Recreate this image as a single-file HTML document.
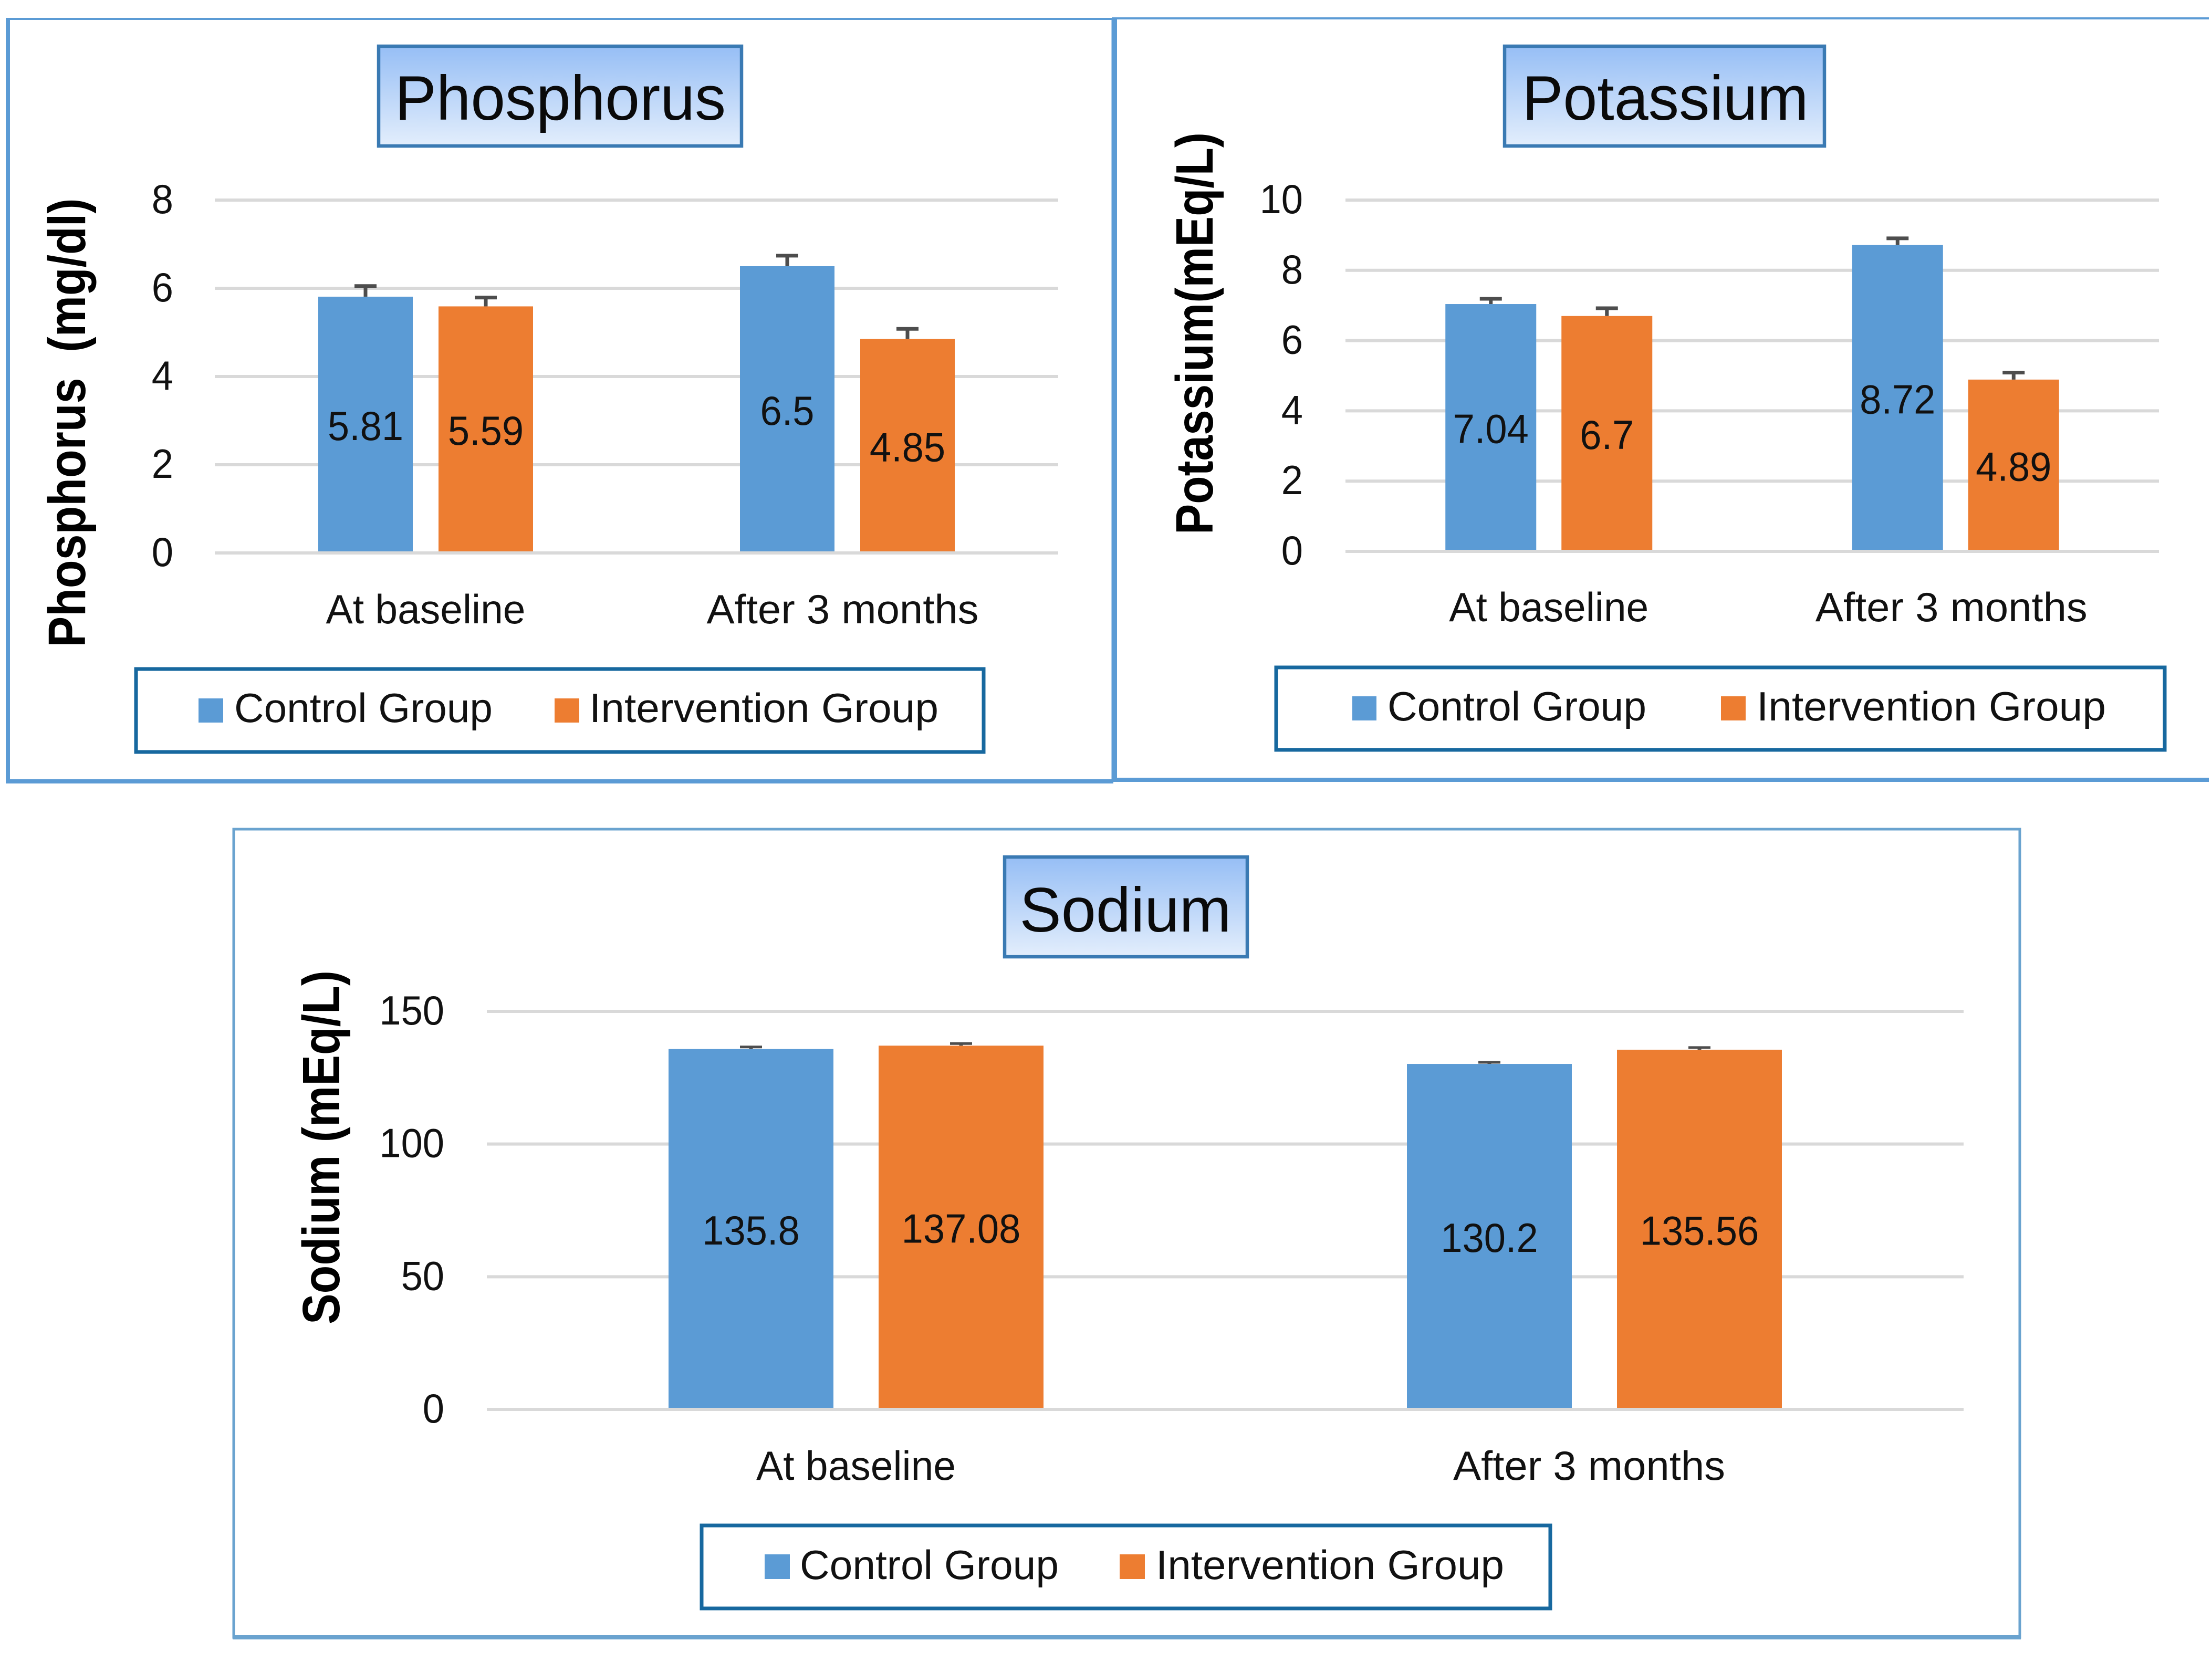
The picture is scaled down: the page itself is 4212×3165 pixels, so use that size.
<!DOCTYPE html>
<html lang="en">
<head>
<meta charset="utf-8">
<title>Phosphorus, Potassium and Sodium by group</title>
<style>
html,body{margin:0;padding:0;background:#fff;}
svg{display:block;}
text{font-family:"Liberation Sans",sans-serif;fill:#111;}
.title{font-size:120px;fill:#0a0a0a;}
.tick,.cat,.legend,.value{font-size:78px;}
.axis-title{font-size:100px;font-weight:bold;fill:#000;}
.title-box{fill:url(#title-fill);stroke:#3a7ab3;stroke-width:6.5;}
.legend-box{fill:#fff;stroke:#17689f;stroke-width:7;}
.frame{stroke:#5b9bd5;fill:none;}
</style>
</head>
<body>
<svg id="figure" xmlns="http://www.w3.org/2000/svg" width="4212" height="3165" viewBox="0 0 4212 3165">
  <defs>
    <linearGradient id="title-fill" x1="0" y1="0" x2="0" y2="1">
      <stop offset="0" stop-color="#96bef5"/>
      <stop offset="1" stop-color="#e3eefc"/>
    </linearGradient>
  </defs>
  <rect width="4212" height="3165" fill="#fff"/>

  <g>
    <line class="frame" x1="11" y1="36" x2="2120" y2="36" stroke-width="4"/>
    <line class="frame" x1="15" y1="34" x2="15" y2="1492" stroke-width="8"/>
    <line class="frame" x1="11" y1="1488" x2="2120" y2="1488" stroke-width="8"/>
    <line class="frame" x1="2118" y1="34" x2="2118" y2="1490" stroke-width="3"/>
  </g>
  <g>
    <line class="frame" x1="2117" y1="35" x2="4206" y2="35" stroke-width="4"/>
    <line class="frame" x1="2122" y1="33" x2="2122" y2="1489" stroke-width="10"/>
    <line class="frame" x1="2117" y1="1485" x2="4206" y2="1485" stroke-width="8"/>
  </g>
  <g>
    <rect class="frame" x="445" y="1579" width="3401" height="1539" stroke-width="5" style="stroke:#6aa3cf"/>
    <line class="frame" x1="443" y1="3118" x2="3848" y2="3118" stroke-width="8" style="stroke:#6aa3cf"/>
  </g>

  <g>
    <rect class="title-box" x="721" y="88" width="691" height="190"/>
    <text class="title" x="1067" y="228" text-anchor="middle" textLength="630" lengthAdjust="spacingAndGlyphs">Phosphorus</text>
    <text class="axis-title" transform="translate(162 805) rotate(-90)" text-anchor="middle" textLength="855" lengthAdjust="spacingAndGlyphs" xml:space="preserve">Phosphorus  (mg/dl)</text>
    <g id="phosphorus-plot"></g>
    <g>
      <rect class="legend-box" x="259" y="1274" width="1614" height="158"/>
      <rect x="378" y="1330" width="47" height="46" fill="#5b9bd5"/>
      <text class="legend" x="446" y="1375" textLength="492" lengthAdjust="spacingAndGlyphs">Control Group</text>
      <rect x="1056" y="1330" width="47" height="46" fill="#ed7d31"/>
      <text class="legend" x="1122" y="1375" textLength="665" lengthAdjust="spacingAndGlyphs">Intervention Group</text>
    </g>
  </g>

  <g>
    <rect class="title-box" x="2865" y="88" width="609" height="190"/>
    <text class="title" x="3171" y="228" text-anchor="middle" textLength="545" lengthAdjust="spacingAndGlyphs">Potassium</text>
    <text class="axis-title" transform="translate(2309 635) rotate(-90)" text-anchor="middle" textLength="766" lengthAdjust="spacingAndGlyphs">Potassium(mEq/L)</text>
    <g id="potassium-plot"></g>
    <g>
      <rect class="legend-box" x="2430" y="1271" width="1692" height="157"/>
      <rect x="2575" y="1326" width="46" height="46" fill="#5b9bd5"/>
      <text class="legend" x="2642" y="1372" textLength="493" lengthAdjust="spacingAndGlyphs">Control Group</text>
      <rect x="3277" y="1326" width="47" height="46" fill="#ed7d31"/>
      <text class="legend" x="3345" y="1372" textLength="665" lengthAdjust="spacingAndGlyphs">Intervention Group</text>
    </g>
  </g>

  <g>
    <rect class="title-box" x="1913" y="1632" width="462" height="190"/>
    <text class="title" x="2143" y="1774" text-anchor="middle" textLength="403" lengthAdjust="spacingAndGlyphs">Sodium</text>
    <text class="axis-title" transform="translate(646 2185) rotate(-90)" text-anchor="middle" textLength="674" lengthAdjust="spacingAndGlyphs">Sodium (mEq/L)</text>
    <g id="sodium-plot"></g>
    <g>
      <rect class="legend-box" x="1336" y="2905" width="1616" height="158"/>
      <rect x="1456" y="2960" width="48" height="47" fill="#5b9bd5"/>
      <text class="legend" x="1523" y="3007" textLength="493" lengthAdjust="spacingAndGlyphs">Control Group</text>
      <rect x="2132" y="2960" width="48" height="47" fill="#ed7d31"/>
      <text class="legend" x="2201" y="3007" textLength="663" lengthAdjust="spacingAndGlyphs">Intervention Group</text>
    </g>
  </g>
</svg>

<script>
// ---- chart data ----
const categories = ['At baseline', 'After 3 months'];

const phosphorusTicks = [0, 2, 4, 6, 8];
const phosphorusControl = [5.81, 6.5];
const phosphorusIntervention = [5.59, 4.85];
const phosphorusControlError = [0.24, 0.24];
const phosphorusInterventionError = [0.2, 0.23];

const potassiumTicks = [0, 2, 4, 6, 8, 10];
const potassiumControl = [7.04, 8.72];
const potassiumIntervention = [6.7, 4.89];
const potassiumControlError = [0.15, 0.19];
const potassiumInterventionError = [0.22, 0.2];

const sodiumTicks = [0, 50, 100, 150];
const sodiumControl = [135.8, 130.2];
const sodiumIntervention = [137.08, 135.56];
const sodiumControlError = [0.8, 0.6];
const sodiumInterventionError = [0.8, 0.8];

// ---- drawing ----
const SVG_NS = 'http://www.w3.org/2000/svg';
const COLORS = { control: '#5b9bd5', intervention: '#ed7d31' };
const NARROW = 0.95;

function shape(tag, attrs, parent) {
  const el = document.createElementNS(SVG_NS, tag);
  Object.keys(attrs).forEach(function (k) { el.setAttribute(k, attrs[k]); });
  parent.appendChild(el);
  return el;
}

function condense(el) {
  el.setAttribute('textLength', el.getComputedTextLength() * NARROW);
  el.setAttribute('lengthAdjust', 'spacingAndGlyphs');
}

function drawPanel(p) {
  const root = document.getElementById(p.id);
  const maxTick = p.ticks[p.ticks.length - 1];
  const yScale = function (v) { return p.y0 - (v / maxTick) * (p.y0 - p.yTop); };
  const band = (p.xRight - p.xLeft) / p.categories.length;
  const xCenter = function (i) { return p.xLeft + band * (i + 0.5); };

  p.ticks.forEach(function (t) {
    const grid = shape('line', { x1: p.xLeft, x2: p.xRight, y1: yScale(t), y2: yScale(t), stroke: '#d9d9d9', 'stroke-width': 6 }, root);
    
    
    const label = shape('text', { class: 'tick', x: p.tickX, y: yScale(t) + 25, 'text-anchor': 'end' }, root);
    
    
    label.textContent = String(t);
    condense(label);
  });

  const series = [
    { key: 'control', values: p.control, errors: p.controlError, side: -1 },
    { key: 'intervention', values: p.intervention, errors: p.interventionError, side: 1 }
  ];

  p.categories.forEach(function (cat, i) {
    series.forEach(function (s) {
      const v = s.values[i];
      const cx = xCenter(i) + s.side * (p.barWidth + p.barGap) / 2;
      const top = yScale(v);
      const capY = yScale(v + s.errors[i]);

      const bar = shape('rect', { x: cx - p.barWidth / 2, y: top, width: p.barWidth, height: p.y0 - 3 - top, fill: COLORS[s.key] }, root);
      
      

      const stem = shape('line', { x1: cx, x2: cx, y1: top, y2: capY, stroke: '#4d4d4d', 'stroke-width': 7 }, root);
      
      

      const cap = shape('line', { x1: cx - 21, x2: cx + 21, y1: capY, y2: capY, stroke: '#4d4d4d', 'stroke-width': p.capStroke }, root);
      
      

      const value = shape('text', { class: 'value', x: cx, y: (top + p.y0) / 2 + 29, 'text-anchor': 'middle' }, root);
      
      
      value.textContent = String(v);
      condense(value);
    });

    const catLabel = shape('text', {
      class: 'cat',
      x: xCenter(i) + p.catShift * i,
      y: p.catY,
      'text-anchor': 'middle',
      textLength: cat.length > 12 ? 518 : 380,
      lengthAdjust: 'spacingAndGlyphs'
    }, root);
    
    
    catLabel.textContent = cat;
  });
}

drawPanel({
  id: 'phosphorus-plot', categories: categories, ticks: phosphorusTicks,
  control: phosphorusControl, intervention: phosphorusIntervention,
  controlError: phosphorusControlError, interventionError: phosphorusInterventionError,
  xLeft: 409, xRight: 2015, y0: 1053, yTop: 381, barWidth: 180, barGap: 49,
  tickX: 330, catY: 1187, catShift: -9, capStroke: 7
});
drawPanel({
  id: 'potassium-plot', categories: categories, ticks: potassiumTicks,
  control: potassiumControl, intervention: potassiumIntervention,
  controlError: potassiumControlError, interventionError: potassiumInterventionError,
  xLeft: 2562, xRight: 4111, y0: 1050, yTop: 381, barWidth: 173, barGap: 48,
  tickX: 2481, catY: 1183, catShift: -8, capStroke: 7
});
drawPanel({
  id: 'sodium-plot', categories: categories, ticks: sodiumTicks,
  control: sodiumControl, intervention: sodiumIntervention,
  controlError: sodiumControlError, interventionError: sodiumInterventionError,
  xLeft: 927, xRight: 3739, y0: 2684, yTop: 1926, barWidth: 314, barGap: 86,
  tickX: 846, catY: 2818, catShift: -10, capStroke: 5
});
</script>
</body>
</html>
